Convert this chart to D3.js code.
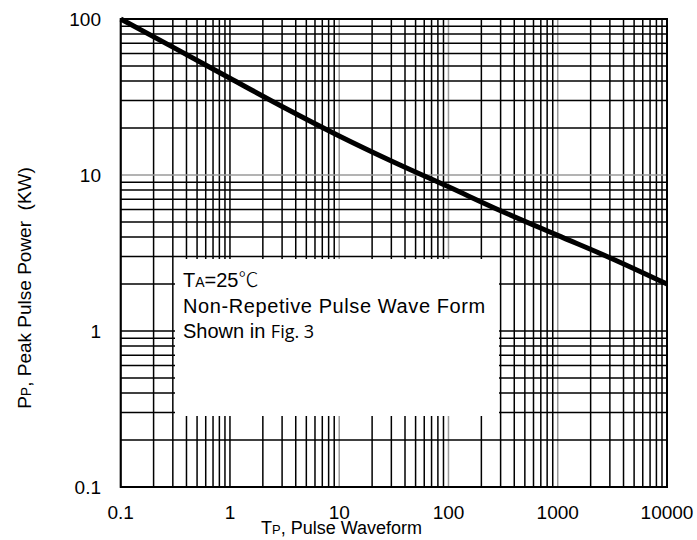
<!DOCTYPE html>
<html>
<head>
<meta charset="utf-8">
<script src="https://cdn.jsdelivr.net/npm/d3@7"></script>
<style>
  body { margin: 0; background: #fff; }
  text { font-family: "Liberation Sans", Arial, sans-serif; fill: #000; }
</style>
</head>
<body>
<svg id="chart" width="697" height="540"></svg>
<script>
// pulse width (x) and peak pulse power in KW (y)
const pulseWidth = [0.1, 0.3, 1, 3, 10, 30, 100, 300, 1000, 3000, 10000];
const peakPower = [100, 66, 41.7, 27.5, 17.8, 12.3, 8.4, 5.9, 4.1, 2.95, 2.0];

const xTickLabels = ['0.1', '1', '10', '100', '1000', '10000'];
const yTickLabels = ['0.1', '1', '10', '100'];
const noteLines = ['Non-Repetive Pulse Wave Form'];

const plotLeft = 120.7, plotRight = 667, plotTop = 19, plotBottom = 487;

const svg = d3.select('#chart');

const x = d3.scaleLog().domain([0.1, 10000]).range([plotLeft, plotRight]);
const y = d3.scaleLog().domain([0.1, 100]).range([plotBottom, plotTop]);

// minor grid values 1..9 per decade
const gridX = [];
[0.1, 1, 10, 100, 1000].forEach((d) => {
  for (let k = 1; k <= 9; k++) gridX.push(+(d * k).toPrecision(3));
});
gridX.push(10000);
const gridY = [];
[0.1, 1, 10].forEach((d) => {
  for (let k = 1; k <= 9; k++) gridY.push(+(d * k).toPrecision(3));
});
gridY.push(100);

const grayX = [10, 100, 1000];
const grayY = [10];

const grid = svg.append('g');

grid.selectAll('line.v')
  .data(gridX)
  .join('line')
  .attr('class', 'v')
  .attr('x1', (d) => x(d))
  .attr('x2', (d) => x(d))
  .attr('y1', plotTop)
  .attr('y2', plotBottom)
  .attr('stroke', (d) => grayX.includes(d) ? '#9a9a9a' : '#000')
  .attr('stroke-width', 1.5);

grid.selectAll('line.h')
  .data(gridY)
  .join('line')
  .attr('class', 'h')
  .attr('x1', plotLeft)
  .attr('x2', plotRight)
  .attr('y1', (d) => y(d))
  .attr('y2', (d) => y(d))
  .attr('stroke', (d) => grayY.includes(d) ? '#9a9a9a' : '#000')
  .attr('stroke-width', 1.5);

// white note box covering part of the grid
svg.append('rect')
  .attr('x', 175)
  .attr('y', 259)
  .attr('width', 324)
  .attr('height', 157)
  .attr('fill', '#fff');

// frame
svg.append('rect')
  .attr('x', plotLeft)
  .attr('y', plotTop)
  .attr('width', plotRight - plotLeft)
  .attr('height', plotBottom - plotTop)
  .attr('fill', 'none')
  .attr('stroke', '#000')
  .attr('stroke-width', 2);

// curve
const line = d3.line()
  .x((d, i) => x(pulseWidth[i]))
  .y((d) => y(d))
  .curve(d3.curveMonotoneX);

svg.append('path')
  .datum(peakPower)
  .attr('d', line)
  .attr('fill', 'none')
  .attr('stroke', '#000')
  .attr('stroke-width', 5);

// tick labels
svg.selectAll('text.xt')
  .data(xTickLabels)
  .join('text')
  .attr('class', 'xt')
  .attr('x', (d) => x(+d))
  .attr('y', 519)
  .attr('text-anchor', 'middle')
  .attr('font-size', 19)
  .text((d) => d);

svg.selectAll('text.yt')
  .data(yTickLabels)
  .join('text')
  .attr('class', 'yt')
  .attr('x', 101)
  .attr('y', (d) => y(+d))
  .attr('dy', '0.35em')
  .attr('text-anchor', 'end')
  .attr('font-size', 19)
  .text((d) => d);

// axis titles
const xTitle = svg.append('text')
  .attr('x', 261)
  .attr('y', 534)
  .attr('font-size', 18);
xTitle.append('tspan').text('T');
xTitle.append('tspan').attr('font-size', 13).text('P');
xTitle.append('tspan').text(', Pulse Waveform');

const yTitle = svg.append('text')
  .attr('transform', 'translate(31,288) rotate(-90)')
  .attr('text-anchor', 'middle')
  .attr('font-size', 19);
yTitle.append('tspan').text('P');
yTitle.append('tspan').attr('font-size', 14).text('P');
yTitle.append('tspan').text(', Peak Pulse Power \u00a0(KW)');

// note text
const note = svg.append('g').attr('transform', 'translate(183,0)');
const t1 = note.append('text').attr('y', 287).attr('font-size', 20);
t1.append('tspan').text('T');
t1.append('tspan').attr('font-size', 14).text('A');
t1.append('tspan').text('=25');
t1.append('tspan').attr('font-family', '"Noto Sans CJK SC"').attr('font-weight', 300).text('℃');

note.selectAll('text.nl')
  .data(noteLines)
  .join('text')
  .attr('class', 'nl')
  .attr('y', 313)
  .attr('font-size', 20)
  .attr('letter-spacing', 0.6)
  .text((d) => d);

const t3 = note.append('text').attr('y', 338).attr('font-size', 20);
t3.append('tspan').text('Shown in ');
t3.append('tspan').attr('font-family', '"Open Sans"').attr('font-size', 18).text('Fig. 3');
</script>
</body>
</html>
